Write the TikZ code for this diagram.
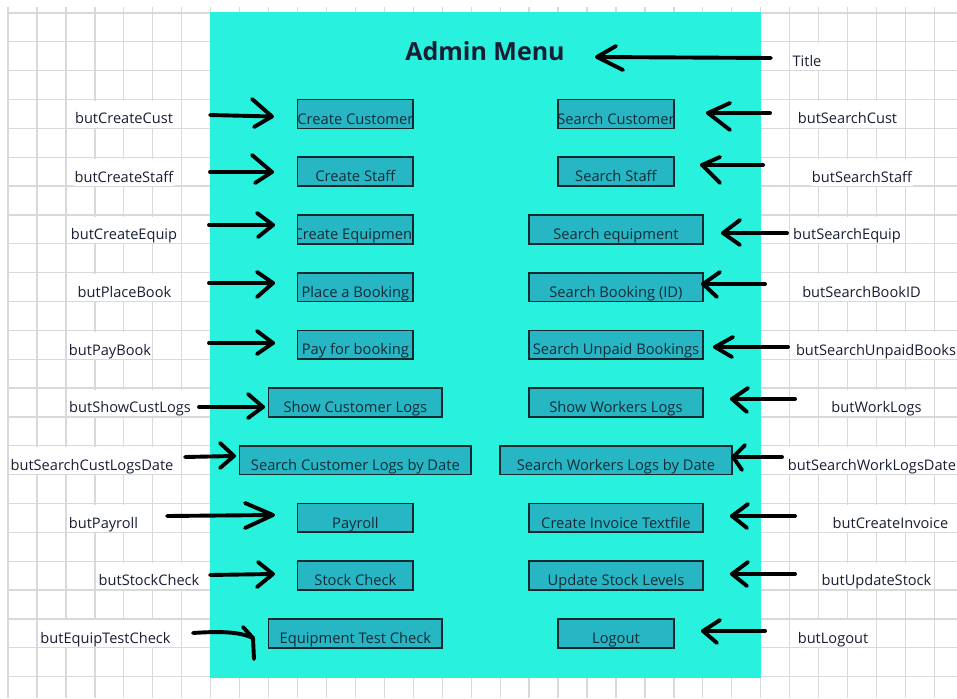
\documentclass[tikz,border=0pt]{standalone}
\usepackage{fontspec}
\setmainfont{Open Sans}
\usetikzlibrary{calc}
\definecolor{panel}{RGB}{40,242,222}
\definecolor{btnfill}{RGB}{38,182,196}
\definecolor{btnline}{RGB}{22,40,46}
\definecolor{gridline}{RGB}{217,217,217}
\definecolor{ink}{RGB}{26,30,52}
\definecolor{btnink}{RGB}{20,44,56}

% a form button spanning columns #2..#3 in sheet row #4, text clipped to the box
\newcommand\menubtn[5]{%
  \node[btnbox, minimum width={28.95pt*(#3-#2)}, minimum height=28.85pt]
    (#1) at ({8+28.95*(#2+#3)/2},{13+28.85*(#4+0.5)}) {};
  \begin{scope}
    \clip (#1.south west) rectangle (#1.north east);
    \node[btntext] at ({8+28.95*(#2+#3)/2},{13+28.85*(#4+1)-4.3}) {#5};
  \end{scope}
  \draw[btnedge] (#1.south west) rectangle (#1.north east);}

% a hand-drawn arrow: name, tail, tip, upper arm end, lower arm end
\newcommand\handarrow[5]{%
  \coordinate (#1-tail) at #2;
  \coordinate (#1-tip) at #3;
  \draw[pen] (#1-tail) -- (#1-tip);
  \draw[pen] #4 -- (#1-tip) -- #5;}

\begin{document}
\begin{tikzpicture}[x=1pt,y=-1pt,
  gridl/.style={draw=gridline, line width=1.3pt},
  btnbox/.style={fill=btnfill, draw=none, inner sep=0pt, outer sep=0pt},
  btnedge/.style={draw=btnline, line width=1.7pt},
  btntext/.style={anchor=base, inner sep=0pt, text=btnink,
    font=\fontsize{14.7}{17}\selectfont},
  lbl/.style={anchor=base, fill=white, inner xsep=1pt, inner ysep=0pt,
    text height=23pt, text depth=3.5pt, text=ink,
    font=\fontsize{14.6}{17}\selectfont},
  pen/.style={draw=black, line width=3.9pt, line cap=round, line join=round},
  titletext/.style={anchor=base, inner sep=0pt, text=ink,
    font=\bfseries\fontsize{25}{30}\selectfont}]

\fill[white] (0,0) rectangle (957,698);
\useasboundingbox (0,0) rectangle (957,698);

% spreadsheet grid
\foreach \k in {0,...,32}
  \draw[gridl] ({8+28.95*\k},7) -- ({8+28.95*\k},698);
\foreach \k in {0,...,23}
  \draw[gridl] (8,{13+28.85*\k}) -- (957,{13+28.85*\k});

% control names, left column
\node[lbl] (lCreateCust)   at (124,124)   {butCreateCust};
\node[lbl] (lCreateStaff)  at (124,182)   {butCreateStaff};
\node[lbl] (lCreateEquip)  at (124,239.5) {butCreateEquip};
\node[lbl] (lPlaceBook)    at (124.5,297.2) {butPlaceBook};
\node[lbl] (lPayBook)      at (110,355)   {butPayBook};
\node[lbl] (lShowCustLogs) at (130,412.6) {butShowCustLogs};
\node[lbl] (lSearchCustLogsDate) at (92,470.3) {butSearchCustLogsDate};
\node[lbl] (lPayroll)      at (103.5,528) {butPayroll};
\node[lbl] (lStockCheck)   at (149,585.7) {butStockCheck};
\node[lbl] (lEquipTestCheck) at (105.5,643.4) {butEquipTestCheck};

% control names, right column
\node[lbl] (lTitle)        at (807,66.4)  {Title};
\node[lbl] (lSearchCust)   at (847.5,124) {butSearchCust};
\node[lbl] (lSearchStaff)  at (862,182)   {butSearchStaff};
\node[lbl] (lSearchEquip)  at (847,239.5) {butSearchEquip};
\node[lbl] (lSearchBookID) at (861.5,297.2) {butSearchBookID};
\node[lbl] (lSearchUnpaidBooks) at (876,355) {butSearchUnpaidBooks};
\node[lbl] (lWorkLogs)     at (876.5,412.6) {butWorkLogs};
\node[lbl] (lSearchWorkLogsDate) at (872,470.3) {butSearchWorkLogsDate};
\node[lbl] (lCreateInvoice) at (890.5,528) {butCreateInvoice};
\node[lbl] (lUpdateStock)  at (876.5,585.7) {butUpdateStock};
\node[lbl] (lLogout)       at (833,643.4) {butLogout};

% form background
\fill[panel] (210,12) rectangle (761,678);

\node[titletext] (title) at (485,61) {Admin Menu};

% buttons, left column
\menubtn{bCreateCust}{10}{14}{3}{Create Customer}
\menubtn{bCreateStaff}{10}{14}{5}{Create Staff}
\menubtn{bCreateEquip}{10}{14}{7}{Create Equipment}
\menubtn{bPlaceBook}{10}{14}{9}{Place a Booking}
\menubtn{bPayBook}{10}{14}{11}{Pay for booking}
\menubtn{bShowCustLogs}{9}{15}{13}{Show Customer Logs}
\menubtn{bSearchCustLogsDate}{8}{16}{15}{Search Customer Logs by Date}
\menubtn{bPayroll}{10}{14}{17}{Payroll}
\menubtn{bStockCheck}{10}{14}{19}{Stock Check}
\menubtn{bEquipTestCheck}{9}{15}{21}{Equipment Test Check}

% buttons, right column
\menubtn{bSearchCust}{19}{23}{3}{Search Customer}
\menubtn{bSearchStaff}{19}{23}{5}{Search Staff}
\menubtn{bSearchEquip}{18}{24}{7}{Search equipment}
\menubtn{bSearchBookID}{18}{24}{9}{Search Booking (ID)}
\menubtn{bSearchUnpaid}{18}{24}{11}{Search Unpaid Bookings}
\menubtn{bWorkLogs}{18}{24}{13}{Show Workers Logs}
\menubtn{bSearchWorkLogsDate}{17}{25}{15}{Search Workers Logs by Date}
\menubtn{bCreateInvoice}{18}{24}{17}{Create Invoice Textfile}
\menubtn{bUpdateStock}{18}{24}{19}{Update Stock Levels}
\menubtn{bLogout}{19}{23}{21}{Logout}

% hand-drawn arrows from the names to their controls, left side
\handarrow{aCreateCust}{(210,115)}{(272,116.5)}{(252,99)}{(254,127)}
\handarrow{aCreateStaff}{(210,172)}{(272,172)}{(252,155)}{(255,183)}
\handarrow{aCreateEquip}{(209,225)}{(273,225)}{(257,213)}{(258,237)}
\handarrow{aPlaceBook}{(209,283)}{(273,283)}{(257,272)}{(257,297)}
\handarrow{aPayBook}{(209,343)}{(273,343)}{(257,331)}{(257,354)}
\handarrow{aShowCustLogs}{(199,407)}{(263,407)}{(248,394)}{(248,418)}
\handarrow{aSearchCustLogsDate}{(185,457)}{(234,456)}{(220,443)}{(220,468)}
\handarrow{aPayroll}{(167,516)}{(273,515)}{(245,503)}{(245,528)}
\handarrow{aStockCheck}{(210,575)}{(273,574)}{(258,562)}{(257,587)}
% the hooked one
\coordinate (aEquipTestCheck-tail) at (193,633);
\coordinate (aEquipTestCheck-bend) at (253,638);
\coordinate (aEquipTestCheck-tip) at (254,659);
\draw[pen] (aEquipTestCheck-tail) .. controls (222,631) and (240,632)
  .. (aEquipTestCheck-bend) -- (aEquipTestCheck-tip);
\draw[pen] (243,627) -- (aEquipTestCheck-bend);

% right side
\handarrow{aTitle}{(771,58)}{(597,57)}{(616,46)}{(623,70)}
\handarrow{aSearchCust}{(770,113)}{(708,113)}{(730,103)}{(730,130)}
\handarrow{aSearchStaff}{(763,165)}{(702,165)}{(720,157)}{(720,183)}
\handarrow{aSearchEquip}{(787,233)}{(723,233)}{(740,220)}{(740,245)}
\handarrow{aSearchBookID}{(765,284)}{(703,284)}{(720,272)}{(717,297)}
\handarrow{aSearchUnpaid}{(788,347)}{(715,347)}{(733,337)}{(732,357)}
\handarrow{aWorkLogs}{(795,399)}{(732,399)}{(748,388)}{(747,412)}
\handarrow{aSearchWorkLogsDate}{(782,457)}{(733,457)}{(745,445)}{(742,470)}
\handarrow{aCreateInvoice}{(795,516)}{(732,516)}{(748,504)}{(747,528)}
\handarrow{aUpdateStock}{(795,574)}{(732,574)}{(748,562)}{(747,586)}
\handarrow{aLogout}{(765,631)}{(703,631)}{(720,620)}{(717,643)}

\end{tikzpicture}
\end{document}
